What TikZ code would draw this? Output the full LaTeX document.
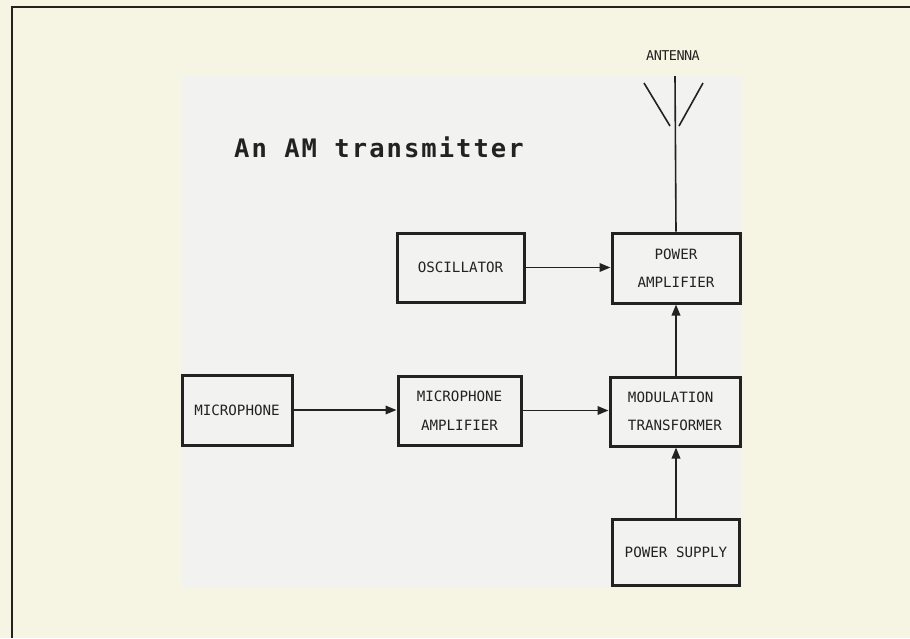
\documentclass[tikz,border=0pt]{standalone}
\usepackage{fontspec}
\setmonofont{DejaVu Sans Mono}
\usetikzlibrary{arrows.meta}
\definecolor{paper}{RGB}{246,245,228}
\definecolor{panel}{RGB}{242,242,240}
\definecolor{ink}{RGB}{34,34,32}
\begin{document}
\begin{tikzpicture}[x=1pt,y=-1pt,
  block/.style={draw=ink,line width=3pt,fill=panel,inner sep=0pt,
    font=\ttfamily\fontsize{14.2}{28.5}\selectfont,text=ink,align=center},
  link/.style={draw=ink,line width=1.9pt,-{Triangle[length=11pt,width=8.5pt]}},
  wire/.style={draw=ink,line width=1.6pt}]
  % paper and the light panel behind the diagram
  \fill[paper] (0,0) rectangle (910,638);
  \useasboundingbox (0,0) rectangle (910,638);
  \fill[panel] (182,76) rectangle (742,588);
  % page frame
  \draw[ink,line width=2.2pt] (12,638) -- (12,7) -- (910,7);

  % title
  \node[anchor=base west,text=ink,inner sep=0pt,
    font=\ttfamily\bfseries\fontsize{25.5}{30}\selectfont\addfontfeature{LetterSpace=8}]
    (title) at (234,157) {An AM transmitter};

  % blocks
  \node[block,minimum width=127pt,minimum height=69pt] (osc) at (460.5,267.5) {OSCILLATOR};
  \node[block,minimum width=128pt,minimum height=70pt] (pa) at (676,268) {POWER\\AMPLIFIER};
  \node[block,minimum width=110pt,minimum height=70pt] (mic) at (237,410) {MICROPHONE};
  \node[block,minimum width=123pt,minimum height=69pt] (ma) at (459.5,410.5) {MICROPHONE\\AMPLIFIER};
  \node[block,minimum width=130pt,minimum height=69pt,align=left] (mt) at (675,411.5) {MODULATION\\TRANSFORMER};
  \node[block,minimum width=127pt,minimum height=66pt] (ps) at (676,552) {POWER SUPPLY};

  % antenna
  \node[font=\ttfamily\fontsize{13.5}{15}\selectfont\addfontfeature{LetterSpace=-4},text=ink,inner sep=0pt] (ant) at (673,56) {ANTENNA};
  \coordinate (mast) at (675,76);
  \draw[wire] (pa.north) -- (mast);
  \coordinate (armLa) at (644,83);
  \coordinate (armLb) at (670,126);
  \coordinate (armRa) at (703,83);
  \coordinate (armRb) at (679,126);
  \draw[wire] (armLa) -- (armLb);
  \draw[wire] (armRa) -- (armRb);

  % signal path
  \draw[link] (osc.east) -- (osc.east -| pa.west);
  \draw[link] (mic.east) -- (mic.east -| ma.west);
  \draw[link] (ma.east) -- (ma.east -| mt.west);
  \draw[link] (mt.north -| pa.south) -- (pa.south);
  \draw[link] (ps.north) -- (ps.north |- mt.south);
\end{tikzpicture}
\end{document}
